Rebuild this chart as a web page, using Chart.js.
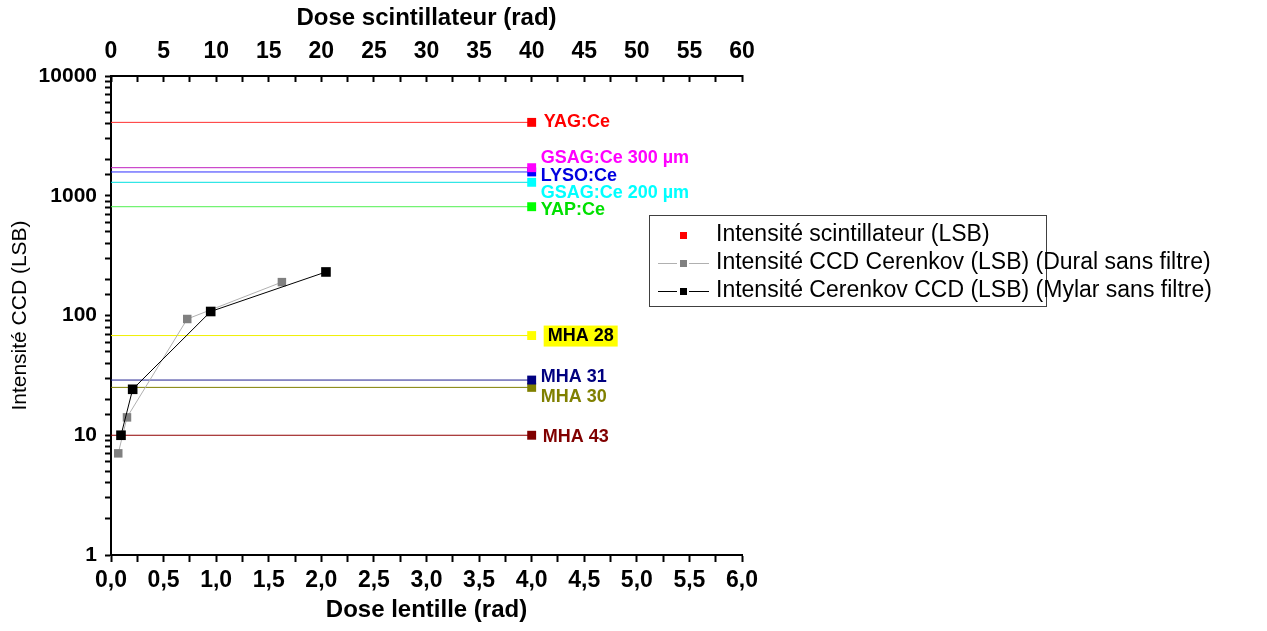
<!DOCTYPE html>
<html>
<head>
<meta charset="utf-8">
<script src="https://cdn.jsdelivr.net/npm/chart.js@4/dist/chart.umd.min.js"></script>
<style>
  body { margin: 0; background: #fff; }
  #wrap { width: 1267px; height: 631px; position: relative; }
</style>
</head>
<body>
<div id="wrap"><canvas id="chart"></canvas></div>
<script>
// Scintillator reference intensities (horizontal lines ending at dose 4 rad)
const scintNames = ['YAG:Ce', 'GSAG:Ce 300 µm', 'LYSO:Ce', 'GSAG:Ce 200 µm', 'YAP:Ce', 'MHA 28', 'MHA 31', 'MHA 30', 'MHA 43'];
const scintValues = [4100, 1715, 1580, 1295, 810, 68, 28.9, 25.1, 10];
const scintDose = 4.0;

// Cerenkov measurements
const duralDose = [0.069, 0.152, 0.725, 1.625];
const duralIntensity = [7.06, 14.1, 93.5, 190];
const mylarDose = [0.095, 0.206, 0.948, 2.044];
const mylarIntensity = [10, 24.2, 108, 231];

const legendLabels = [
  'Intensité scintillateur (LSB)',
  'Intensité CCD Cerenkov (LSB) (Dural sans filtre)',
  'Intensité Cerenkov CCD (LSB) (Mylar sans filtre)'
];

// styles for each scintillator: line colour, marker colour, text colour, label offsets
const scintStyle = [
  { line: '#ff3030', mark: '#ff0000', text: '#ff0000', dx: 12, dy: 0 },
  { line: '#c020c0', mark: '#ff00ff', text: '#ff00ff', dx: 9, dy: -10 },
  { line: '#3030ff', mark: '#0000ff', text: '#0000e0', dx: 9, dy: 4 },
  { line: '#00e0e0', mark: '#00ffff', text: '#00ffff', dx: 9, dy: 11 },
  { line: '#50f050', mark: '#00ff00', text: '#00e000', dx: 9, dy: 3 },
  { line: '#f0f000', mark: '#ffff00', text: '#000000', dx: 16, dy: 0, box: '#ffff00' },
  { line: '#202090', mark: '#000080', text: '#000080', dx: 9, dy: -3 },
  { line: '#808000', mark: '#808000', text: '#808000', dx: 9, dy: 10 },
  { line: '#900000', mark: '#800000', text: '#800000', dx: 11, dy: 2 }
];

Chart.defaults.font.family = '"Liberation Sans", Arial, sans-serif';
Chart.defaults.color = '#000';

const datasets = [];
datasets.push({
  label: legendLabels[2],
  data: mylarDose.map((d, i) => ({ x: d, y: mylarIntensity[i] })),
  borderColor: '#000',
  backgroundColor: '#000',
  borderWidth: 1,
  pointStyle: 'rect',
  pointRadius: 6.8,
  pointBorderWidth: 0,
  order: 0
});
datasets.push({
  label: legendLabels[1],
  data: duralDose.map((d, i) => ({ x: d, y: duralIntensity[i] })),
  borderColor: '#b0b0b0',
  backgroundColor: '#808080',
  pointBackgroundColor: '#808080',
  borderWidth: 1,
  pointStyle: 'rect',
  pointRadius: 6,
  pointBorderWidth: 0,
  order: 1
});
scintNames.forEach((name, i) => {
  datasets.push({
    label: name,
    scint: i,
    data: [{ x: 0, y: scintValues[i] }, { x: scintDose, y: scintValues[i] }],
    borderColor: scintStyle[i].line,
    backgroundColor: scintStyle[i].mark,
    pointBackgroundColor: scintStyle[i].mark,
    borderWidth: 1,
    pointStyle: 'rect',
    pointRadius: ctx => ctx.dataIndex === 1 ? 6.3 : 0,
    pointBorderWidth: 0,
    order: 2
  });
});

// labels next to the scintillator markers
const scintLabels = {
  id: 'scintLabels',
  afterDatasetsDraw(chart) {
    const ctx = chart.ctx;
    ctx.save();
    ctx.font = 'bold 18px "Liberation Sans", Arial, sans-serif';
    ctx.textBaseline = 'middle';
    ctx.textAlign = 'left';
    chart.data.datasets.forEach((ds, di) => {
      if (ds.scint === undefined) return;
      const st = scintStyle[ds.scint];
      const pt = chart.getDatasetMeta(di).data[1];
      const x = pt.x + st.dx;
      const y = pt.y + st.dy;
      if (st.box) {
        const w = ctx.measureText(ds.label).width;
        ctx.fillStyle = st.box;
        ctx.fillRect(x - 4, y - 10, w + 8, 21);
      }
      ctx.fillStyle = st.text;
      ctx.fillText(ds.label, x, y);
    });
    ctx.restore();
  }
};

// Origin-style legend box
const boxLegend = {
  id: 'boxLegend',
  afterDraw(chart) {
    const ctx = chart.ctx;
    const left = 649, top = 215, right = 1046, bottom = 306;
    const rows = [235, 263, 291];
    ctx.save();
    ctx.strokeStyle = '#404040';
    ctx.lineWidth = 1;
    ctx.strokeRect(left + 0.5, top + 0.5, right - left, bottom - top);
    const sym = [
      { line: null, mark: '#ff0000' },
      { line: '#b0b0b0', mark: '#808080' },
      { line: '#000', mark: '#000' }
    ];
    ctx.font = '23px "Liberation Sans", Arial, sans-serif';
    ctx.textBaseline = 'middle';
    rows.forEach((y, i) => {
      const s = sym[i];
      if (s.line) {
        ctx.strokeStyle = s.line;
        ctx.beginPath();
        ctx.moveTo(658, y + 0.5); ctx.lineTo(677, y + 0.5);
        ctx.moveTo(689, y + 0.5); ctx.lineTo(709, y + 0.5);
        ctx.stroke();
      }
      ctx.fillStyle = s.mark;
      ctx.fillRect(680, y - 3, 7, 7);
      ctx.fillStyle = '#000';
      ctx.fillText(legendLabels[i], 716, y);
    });
    ctx.restore();
  }
};

const tickFont = { size: 23, weight: 'bold' };
const titleFont = { size: 24, weight: 'bold' };

new Chart(document.getElementById('chart'), {
  type: 'line',
  data: { datasets },
  plugins: [scintLabels, boxLegend],
  options: {
    responsive: true,
    maintainAspectRatio: false,
    animation: false,
    layout: { padding: { left: 0, right: 525, top: 0, bottom: 0 } },
    plugins: { legend: { display: false }, tooltip: { enabled: false } },
    scales: {
      x: {
        type: 'linear',
        position: 'bottom',
        min: 0, max: 6,
        afterFit: s => { s.height = 76; },
        border: { color: '#000', width: 2 },
        grid: { drawOnChartArea: false, tickLength: 7, tickColor: '#000', tickWidth: 2 },
        ticks: {
          stepSize: 0.25, autoSkip: false, maxRotation: 0, padding: 5,
          font: tickFont,
          callback: v => Number.isInteger(v * 2) ? v.toFixed(1).replace('.', ',') : ''
        },
        title: { display: true, text: 'Dose lentille (rad)', font: titleFont, padding: { top: 0, bottom: 6 } }
      },
      x2: {
        type: 'linear',
        position: 'top',
        min: 0, max: 60,
        afterFit: s => { s.height = 76; },
        border: { color: '#000', width: 2 },
        // negative length turns the tick marks inward, as in the original
        grid: { drawOnChartArea: false, tickLength: -6, tickColor: '#000', tickWidth: 2 },
        ticks: {
          stepSize: 2.5, autoSkip: false, maxRotation: 0, padding: 17,
          font: tickFont,
          callback: v => Number.isInteger(v / 5) ? String(v) : ''
        },
        title: { display: true, text: 'Dose scintillateur (rad)', font: titleFont, padding: { top: 4, bottom: 0 } }
      },
      y: {
        type: 'logarithmic',
        min: 1, max: 10000,
        afterFit: s => { s.width = 111; },
        border: { color: '#000', width: 2 },
        grid: { drawOnChartArea: false, tickLength: 6, tickColor: '#000', tickWidth: 2 },
        ticks: {
          autoSkip: false, padding: 8,
          font: { size: 21, weight: 'bold' },
          callback: v => Number.isInteger(Math.log10(v)) ? String(v) : ''
        },
        title: { display: true, text: 'Intensité CCD (LSB)', font: { size: 21 }, padding: { top: 8, bottom: 0 } }
      }
    }
  }
});
</script>
</body>
</html>
